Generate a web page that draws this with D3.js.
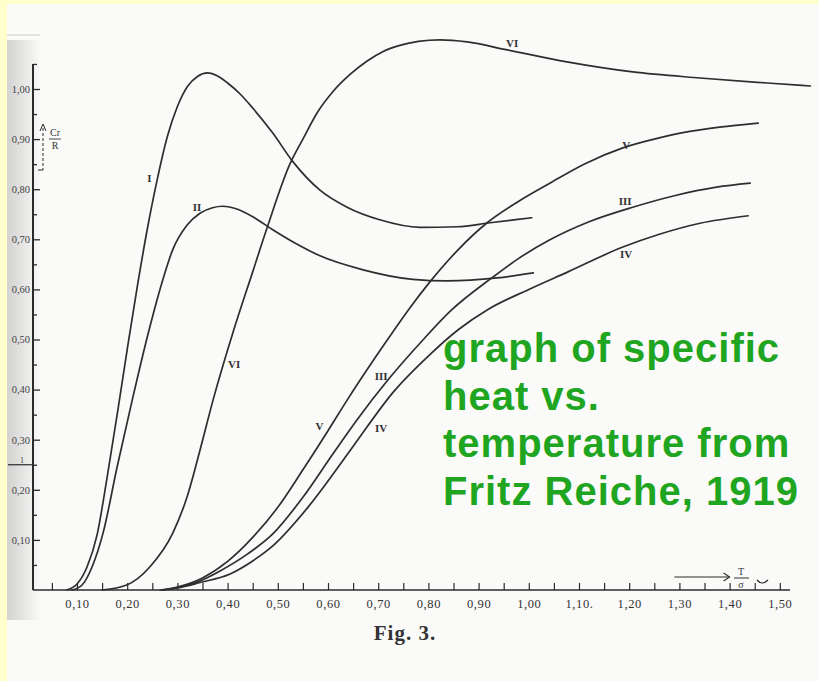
<!DOCTYPE html>
<html>
<head>
<meta charset="utf-8">
<script src="https://cdn.jsdelivr.net/npm/d3@7"></script>
<style>
	html, body { margin: 0; padding: 0; background: #ffffcc; }
	svg { display: block; }
</style>
</head>
<body>
<script>
// curves: [T/sigma, Cr/R]
var curveI = [[0.08,0],[0.10,0.012],[0.12,0.046],[0.14,0.110],[0.16,0.225],[0.18,0.350],[0.20,0.480],[0.22,0.605],[0.24,0.720],[0.26,0.820],[0.28,0.905],[0.30,0.965],[0.32,1.005],[0.34,1.025],[0.36,1.032],[0.38,1.026],[0.40,1.012],[0.425,0.990],[0.45,0.962],[0.49,0.912],[0.53,0.855],[0.584,0.798],[0.638,0.764],[0.703,0.739],[0.783,0.724],[0.857,0.725],[0.923,0.733],[1.006,0.743]];
var curveII = [[0.09,0],[0.11,0.01],[0.13,0.046],[0.152,0.114],[0.180,0.246],[0.210,0.379],[0.240,0.505],[0.265,0.599],[0.291,0.680],[0.319,0.728],[0.345,0.752],[0.37,0.763],[0.39,0.766],[0.42,0.760],[0.455,0.742],[0.490,0.719],[0.535,0.692],[0.584,0.667],[0.670,0.639],[0.769,0.620],[0.837,0.617],[0.937,0.623],[1.009,0.633]];
var curveVI = [[0.15,0],[0.199,0.010],[0.245,0.046],[0.291,0.114],[0.319,0.185],[0.345,0.279],[0.371,0.379],[0.411,0.515],[0.450,0.635],[0.479,0.724],[0.524,0.850],[0.550,0.900],[0.580,0.955],[0.610,0.995],[0.645,1.030],[0.678,1.056],[0.710,1.075],[0.743,1.087],[0.780,1.095],[0.823,1.098],[0.877,1.094],[0.957,1.078],[1.076,1.054],[1.207,1.034],[1.341,1.022],[1.475,1.012],[1.561,1.006]];
var curveV = [[0.266,0],[0.30,0.006],[0.35,0.024],[0.40,0.057],[0.45,0.105],[0.50,0.165],[0.55,0.240],[0.60,0.318],[0.64,0.382],[0.68,0.443],[0.718,0.499],[0.763,0.563],[0.803,0.615],[0.86,0.680],[0.917,0.733],[0.98,0.776],[1.042,0.812],[1.11,0.850],[1.186,0.882],[1.25,0.900],[1.307,0.913],[1.38,0.924],[1.457,0.932]];
var curveIII = [[0.27,0],[0.30,0.005],[0.345,0.018],[0.385,0.038],[0.44,0.072],[0.49,0.112],[0.55,0.185],[0.610,0.272],[0.658,0.340],[0.72,0.420],[0.789,0.499],[0.843,0.556],[0.929,0.625],[0.98,0.662],[1.042,0.699],[1.12,0.735],[1.207,0.764],[1.29,0.787],[1.374,0.804],[1.441,0.812]];
var curveIV = [[0.27,0],[0.30,0.004],[0.345,0.015],[0.405,0.032],[0.45,0.058],[0.490,0.088],[0.56,0.165],[0.638,0.270],[0.663,0.305],[0.73,0.395],[0.803,0.470],[0.86,0.520],[0.917,0.559],[1.00,0.600],[1.078,0.635],[1.186,0.684],[1.26,0.710],[1.341,0.732],[1.437,0.747]];

var curveNames = ["I", "II", "VI", "V", "III", "IV"];
var curves = [curveI, curveII, curveVI, curveV, curveIII, curveIV];

// where the roman numerals sit, in data units
var labelNames = ["I", "II", "VI", "V", "III", "IV", "VI", "V", "III", "IV"];
var labelX = [0.244, 0.339, 0.413, 0.583, 0.706, 0.706, 0.967, 1.194, 1.192, 1.194];
var labelY = [0.822, 0.764, 0.451, 0.327, 0.427, 0.323, 1.092, 0.888, 0.776, 0.671];

var xTickLabels = ["0,10","0,20","0,30","0,40","0,50","0,60","0,70","0,80","0,90","1,00","1,10.","1,20","1,30","1,40","1,50"];
var yTickLabels = ["0,10","0,20","0,30","0,40","0,50","0,60","0,70","0,80","0,90","1,00"];

var noteLines = ["graph of specific", "heat vs.", "temperature from", "Fritz Reiche, 1919"];

var W = 819, H = 681;

var svg = d3.select("body").append("svg")
	.attr("width", W)
	.attr("height", H);

var defs = svg.append("defs");
var shade = defs.append("linearGradient").attr("id", "shade");
shade.append("stop").attr("offset", "0%").attr("stop-color", "#000").attr("stop-opacity", 0.16);
shade.append("stop").attr("offset", "100%").attr("stop-color", "#000").attr("stop-opacity", 0);

// scanned page
svg.append("rect")
	.attr("x", 7).attr("y", 4)
	.attr("width", W - 7).attr("height", H - 4)
	.attr("fill", "#fafaf9");
svg.append("rect")
	.attr("x", 7).attr("y", 40)
	.attr("width", 34).attr("height", 580)
	.attr("fill", "url(#shade)");
svg.append("line")
	.attr("x1", 7).attr("x2", 40).attr("y1", 35).attr("y2", 35)
	.attr("stroke", "#ccc").attr("stroke-width", 1);

var x = d3.scaleLinear().domain([0, 1.6]).range([26.8, 26.8 + 1.6 * 502]),
		y = d3.scaleLinear().domain([0, 1]).range([590, 89]);

var ink = "#2b2b2b";

var xTickVals = d3.range(1, 31).map(function(i) { return i * 0.05; });
var yTickVals = d3.range(1, 22).map(function(i) { return i * 0.05; });

function xLabel(d) {
	var k = Math.round(d * 20);
	return k % 2 ? "" : xTickLabels[k / 2 - 1];
}
function yLabel(d) {
	var k = Math.round(d * 20);
	return (k % 2 || k > 20) ? "" : yTickLabels[k / 2 - 1];
}

var xAxis = d3.axisBottom(x)
	.tickValues(xTickVals)
	.tickSizeInner(-7)
	.tickSizeOuter(0)
	.tickPadding(9)
	.tickFormat(xLabel);

var yAxis = d3.axisLeft(y)
	.tickValues(yTickVals)
	.tickSizeInner(-6)
	.tickSizeOuter(0)
	.tickPadding(3)
	.tickFormat(yLabel);

var gx = svg.append("g")
	.attr("transform", "translate(0," + y(0) + ")")
	.call(xAxis);
gx.select(".domain").remove();
gx.selectAll("line").attr("stroke", ink).attr("stroke-width", 1.2);
gx.selectAll("text")
	.attr("fill", "#333")
	.style("font-family", "'Liberation Serif', serif")
	.style("font-size", "12.5px")
	.style("letter-spacing", "0.6px");

var gy = svg.append("g")
	.attr("transform", "translate(33,0)")
	.call(yAxis);
gy.select(".domain").remove();
gy.selectAll("line").attr("stroke", ink).attr("stroke-width", 1.3)
	.attr("x2", function(d) { return Math.round(d * 20) % 2 ? 4 : 7; });
gy.selectAll("text")
	.attr("fill", "#444")
	.style("font-family", "'Liberation Serif', serif")
	.style("font-size", "10.5px");

// axis lines
svg.append("line")
	.attr("x1", 33).attr("x2", 790)
	.attr("y1", y(0)).attr("y2", y(0))
	.attr("stroke", ink).attr("stroke-width", 1.6);
svg.append("line")
	.attr("x1", 33).attr("x2", 33)
	.attr("y1", y(1.05)).attr("y2", y(0))
	.attr("stroke", ink).attr("stroke-width", 2);

// mark at the left edge
svg.append("line")
	.attr("x1", 8).attr("x2", 33)
	.attr("y1", y(0.25)).attr("y2", y(0.25))
	.attr("stroke", ink).attr("stroke-width", 1.2);
svg.append("text")
	.attr("x", 22).attr("y", y(0.25) - 2)
	.attr("text-anchor", "middle")
	.attr("fill", "#444")
	.style("font-family", "'Liberation Serif', serif")
	.style("font-size", "8px")
	.text("1");

// Cr/R with its arrow
svg.append("line")
	.attr("x1", 43).attr("x2", 43)
	.attr("y1", 128).attr("y2", 170)
	.attr("stroke", ink).attr("stroke-width", 1)
	.attr("stroke-dasharray", "3,2");
svg.append("path")
	.attr("d", "M40,131 L43,124 L46,131")
	.attr("fill", "none").attr("stroke", ink).attr("stroke-width", 1);
svg.append("line")
	.attr("x1", 38).attr("x2", 43).attr("y1", 170).attr("y2", 170)
	.attr("stroke", ink).attr("stroke-width", 1);
var frac = svg.append("g")
	.attr("fill", "#333")
	.style("font-family", "'Liberation Serif', serif")
	.style("font-size", "10px")
	.attr("text-anchor", "middle");
frac.append("text").attr("x", 55).attr("y", 136).text("Cr");
frac.append("line").attr("x1", 49).attr("x2", 61).attr("y1", 139).attr("y2", 139)
	.attr("stroke", "#333").attr("stroke-width", 0.9);
frac.append("text").attr("x", 55).attr("y", 149).text("R");

// arrow and T/sigma near the end of the x axis
svg.append("line")
	.attr("x1", x(1.29)).attr("x2", x(1.40))
	.attr("y1", 577).attr("y2", 577)
	.attr("stroke", ink).attr("stroke-width", 1.2);
svg.append("path")
	.attr("d", "M" + (x(1.40) - 6) + ",573 L" + x(1.40) + ",577 L" + (x(1.40) - 6) + ",581")
	.attr("fill", "none").attr("stroke", ink).attr("stroke-width", 1.1);
var tfrac = svg.append("g")
	.attr("fill", "#333")
	.style("font-family", "'Liberation Serif', serif")
	.style("font-size", "10px")
	.attr("text-anchor", "middle");
tfrac.append("text").attr("x", 741).attr("y", 575).text("T");
tfrac.append("line").attr("x1", 734).attr("x2", 749).attr("y1", 578).attr("y2", 578)
	.attr("stroke", "#333").attr("stroke-width", 1);
tfrac.append("text").attr("x", 741).attr("y", 588).text("σ");
svg.append("path")
	.attr("d", "M757,580 Q762,586 768,580")
	.attr("fill", "none").attr("stroke", ink).attr("stroke-width", 1.2);

// curves
var line = d3.line()
	.curve(d3.curveMonotoneX)
	.x(function(d) { return x(d[0]); })
	.y(function(d) { return y(d[1]); });

svg.append("g")
	.attr("class", "curves")
	.selectAll("path")
	.data(curves)
	.enter().append("path")
		.attr("d", line)
		.attr("fill", "none")
		.attr("stroke", "#2e2e2e")
		.attr("stroke-width", 1.7)
		.attr("stroke-linecap", "round");

svg.append("g")
	.attr("class", "labels")
	.selectAll("text")
	.data(labelNames)
	.enter().append("text")
		.attr("x", function(d, i) { return x(labelX[i]); })
		.attr("y", function(d, i) { return y(labelY[i]); })
		.attr("dy", "0.35em")
		.attr("text-anchor", "middle")
		.attr("fill", "#333")
		.style("font-family", "'Liberation Serif', serif")
		.style("font-weight", "bold")
		.style("font-size", "11px")
		.text(function(d) { return d; });

svg.append("text")
	.attr("x", 405).attr("y", 640)
	.attr("text-anchor", "middle")
	.attr("fill", "#333")
	.style("font-family", "'Liberation Serif', serif")
	.style("font-weight", "bold")
	.style("font-size", "21px")
	.style("letter-spacing", "1px")
	.text("Fig. 3.");

svg.append("g")
	.attr("class", "note")
	.selectAll("text")
	.data(noteLines)
	.enter().append("text")
		.attr("x", 443)
		.attr("y", function(d, i) { return 362 + i * 47.5; })
		.attr("fill", "#1fa51f")
		.style("font-family", "'Liberation Sans', Arial, sans-serif")
		.style("font-weight", "bold")
		.style("font-size", "40px")
		.style("letter-spacing", "1px")
		.text(function(d) { return d; });
</script>
</body>
</html>
